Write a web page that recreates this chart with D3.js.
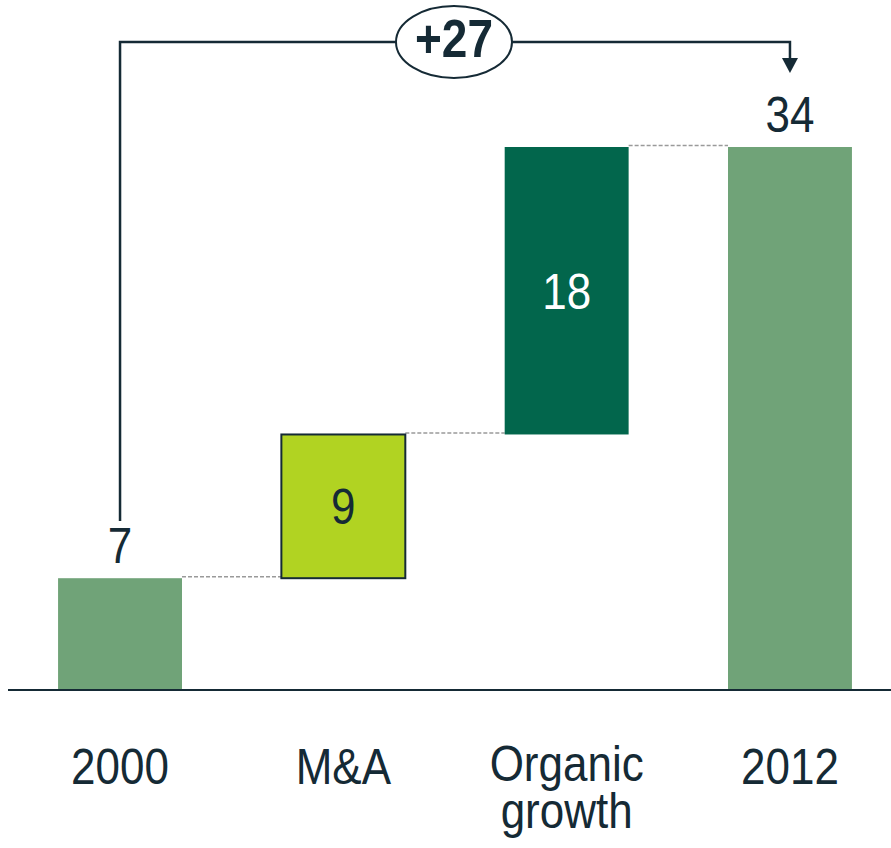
<!DOCTYPE html>
<html>
<head>
<meta charset="utf-8">
<script src="https://cdn.jsdelivr.net/npm/d3@7"></script>
<style>
  body { margin: 0; background: #fff; }
  text { font-family: "Liberation Sans", Arial, sans-serif; fill: #152a35; }
</style>
</head>
<body>
<script>
var categories = ["2000", "M&A", "Organic growth", "2012"];
var values = [7, 9, 18, 34];
var kinds = ["total", "delta", "delta", "total"];
var labelLines = [["2000"], ["M&A"], ["Organic", "growth"], ["2012"]];
var changeLabel = "+27";

var width = 891, height = 848;
var baseY = 690;
var ink = "#152a35";
var colors = { total: "#70a378", delta: ["#b1d322", "#02664c"] };

// running starts for the waterfall
var run = 0;
var bars = categories.map(function(c, i) {
    var b;
    if (kinds[i] === "total") { b = { y0: 0, y1: values[i] }; run = values[i]; }
    else { b = { y0: run, y1: run + values[i] }; run += values[i]; }
    b.cat = c; b.v = values[i]; b.kind = kinds[i]; b.i = i;
    return b;
});

var x = d3.scaleBand().domain(categories).range([0, 910])
    .paddingInner(0.445).paddingOuter(0.26);
var y = d3.scaleLinear().domain([0, 34]).range([baseY, 147]);

var svg = d3.select("body").append("svg")
    .attr("width", width).attr("height", height);

var deltaIdx = 0;
bars.forEach(function(b) {
    if (b.kind === "delta") { b.color = colors.delta[deltaIdx++]; }
    else { b.color = colors.total; }
});

// dashed connectors
for (var i = 0; i < bars.length - 1; i++) {
    var lvl = bars[i].y1;
    svg.append("line")
        .attr("x1", x(categories[i]) + x.bandwidth())
        .attr("x2", x(categories[i + 1]))
        .attr("y1", y(lvl) - 1.5).attr("y2", y(lvl) - 1.5)
        .attr("stroke", "#9a9a9a").attr("stroke-width", 1.5)
        .attr("stroke-dasharray", "4,2");
}

svg.selectAll("rect.bar").data(bars).enter().append("rect")
    .attr("class", "bar")
    .attr("x", function(d) { return x(d.cat); })
    .attr("width", x.bandwidth())
    .attr("y", function(d) { return y(d.y1); })
    .attr("height", function(d) { return y(d.y0) - y(d.y1); })
    .attr("fill", function(d) { return d.color; })
    .attr("stroke", function(d) { return d.i === 1 ? ink : "none"; })
    .attr("stroke-width", 2);

// baseline
svg.append("line").attr("x1", 8).attr("x2", width)
    .attr("y1", baseY).attr("y2", baseY)
    .attr("stroke", ink).attr("stroke-width", 2);

function stretched(g, tx, ty, str, size, weight, fill) {
    var t = g.append("g").attr("transform", "translate(" + tx + "," + ty + ") scale(1,1.15)")
        .append("text").attr("text-anchor", "middle")
        .style("font-size", size + "px").text(str);
    if (weight) t.style("font-weight", weight);
    if (fill) t.style("fill", fill);
    return t;
}

// value labels
bars.forEach(function(b) {
    var cx = x(b.cat) + x.bandwidth() / 2;
    if (b.kind === "total") {
        stretched(svg, cx, y(b.y1) - 15, b.v, 44);
    } else {
        var mid = (y(b.y0) + y(b.y1)) / 2;
        stretched(svg, cx, mid + 18, b.v, 44, null, b.i === 2 ? "#fff" : ink);
    }
});

// category labels
labelLines.forEach(function(lines, i) {
    var cx = x(categories[i]) + x.bandwidth() / 2;
    var y0 = lines.length > 1 ? 781 : 784;
    lines.forEach(function(s, j) {
        stretched(svg, cx, y0 + j * 47, s, 44);
    });
});

// growth bracket
var xa = x(categories[0]) + x.bandwidth() / 2;
var xb = x(categories[3]) + x.bandwidth() / 2;
var topY = 42;
svg.append("path")
    .attr("d", "M" + xa + "," + 521 + "V" + topY + "H" + xb + "V" + 60)
    .attr("fill", "none").attr("stroke", ink).attr("stroke-width", 2.5);
svg.append("path")
    .attr("d", "M" + (xb - 8) + ",58L" + (xb + 8) + ",58L" + xb + ",73Z")
    .attr("fill", ink);

var ex = 454;
svg.append("ellipse").attr("cx", ex).attr("cy", topY)
    .attr("rx", 58).attr("ry", 36)
    .attr("fill", "#fff").attr("stroke", ink).attr("stroke-width", 2);
stretched(svg, ex, 57, changeLabel, 46, "bold");
</script>
</body>
</html>
